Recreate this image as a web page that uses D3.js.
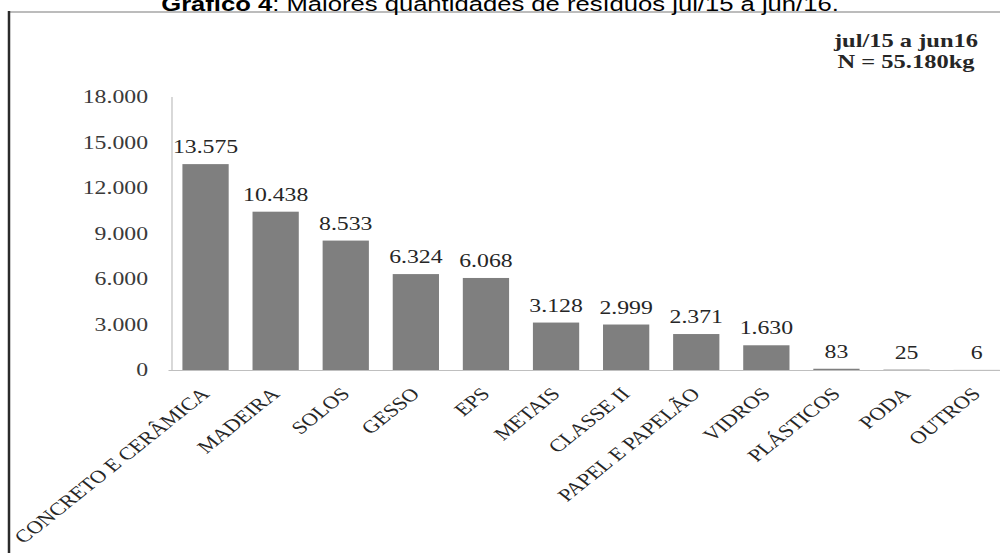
<!DOCTYPE html>
<html>
<head>
<meta charset="utf-8">
<script src="https://cdn.jsdelivr.net/npm/d3@7/dist/d3.min.js"></script>
<style>
  html, body { margin: 0; padding: 0; background: #ffffff; }
  svg { display: block; }
</style>
</head>
<body>
<svg id="chart" width="1000" height="553"></svg>
<script>
// Waste quantities by category, Jul/15 to Jun/16 (kg)
const categories = [
  "CONCRETO E CERÂMICA", "MADEIRA", "SOLOS", "GESSO", "EPS", "METAIS",
  "CLASSE II", "PAPEL E PAPELÃO", "VIDROS", "PLÁSTICOS", "PODA", "OUTROS"
];
const values = [13575, 10438, 8533, 6324, 6068, 3128, 2999, 2371, 1630, 83, 25, 6];
const yTicks = [0, 3000, 6000, 9000, 12000, 15000, 18000];
const titleBold = "Gráfico 4";
const titleRest = ": Maiores quantidades de resíduos jul/15 a jun/16.";
const noteLines = ["jul/15 a jun16", "N = 55.180kg"];

const ptBR = d3.formatLocale({ decimal: ",", thousands: ".", grouping: [3], currency: ["R$", ""] });
const fmt = ptBR.format(",d");

const svg = d3.select("#chart");
const W = 1000, H = 553;
const SX = 1.25; // horizontal text stretch
const serif = "Liberation Serif, Times New Roman, serif";

const x0 = 170.5, step = 70.1;
const x = d3.scaleBand()
  .domain(categories)
  .range([x0, x0 + step * categories.length])
  .paddingInner(0.34)
  .paddingOuter(0.17);

const y = d3.scaleLinear().domain([0, 18000]).range([370, 97]);

// frame
svg.append("line").attr("x1", 9).attr("x2", W).attr("y1", 12).attr("y2", 12)
  .attr("stroke", "#a6a6a6").attr("stroke-width", 1.5);
svg.append("line").attr("x1", 9).attr("x2", 9).attr("y1", 11).attr("y2", H)
  .attr("stroke", "#2b2b2b").attr("stroke-width", 2.5);

// title (runs off the top of the page)
const title = svg.append("text")
  .attr("transform", `translate(500,11) scale(${SX},1)`)
  .attr("text-anchor", "middle")
  .attr("font-family", "Liberation Sans, Arial, sans-serif")
  .attr("font-size", 20.5)
  .attr("fill", "#000");
title.append("tspan").attr("font-weight", "bold").text(titleBold);
title.append("tspan").text(titleRest);

// note in the top right
noteLines.forEach((t, i) => {
  svg.append("text")
    .attr("transform", `translate(906,${47 + i * 21}) scale(1.36,1)`)
    .attr("text-anchor", "middle")
    .attr("font-family", serif)
    .attr("font-weight", "bold")
    .attr("font-size", 18)
    .attr("fill", "#262626")
    .text(t);
});

// y axis line
svg.append("line")
  .attr("x1", x0 + 1.5).attr("x2", x0 + 1.5)
  .attr("y1", y(18000)).attr("y2", y(0))
  .attr("stroke", "#bfbfbf").attr("stroke-width", 1.2);

svg.selectAll(".ytick").data(yTicks).enter().append("text")
  .attr("class", "ytick")
  .attr("transform", d => `translate(148,${y(d) + 6}) scale(${SX},1)`)
  .attr("text-anchor", "end")
  .attr("font-family", serif)
  .attr("font-size", 19)
  .attr("fill", "#3a3a3a")
  .text(d => fmt(d));

// bars
svg.selectAll(".bar").data(values).enter().append("rect")
  .attr("class", "bar")
  .attr("x", (d, i) => x(categories[i]))
  .attr("width", x.bandwidth())
  .attr("y", d => y(d))
  .attr("height", d => y(0) - y(d))
  .attr("fill", "#7f7f7f");

// baseline
svg.append("line")
  .attr("x1", x0 - 2).attr("x2", W)
  .attr("y1", y(0) + 0.5).attr("y2", y(0) + 0.5)
  .attr("stroke", "#bfbfbf").attr("stroke-width", 1.2);

// value labels
svg.selectAll(".val").data(values).enter().append("text")
  .attr("class", "val")
  .attr("transform", (d, i) => `translate(${x(categories[i]) + x.bandwidth() / 2},${y(d) - 11}) scale(${SX},1)`)
  .attr("text-anchor", "middle")
  .attr("font-family", serif)
  .attr("font-size", 19)
  .attr("fill", "#262626")
  .text(d => fmt(d));

// rotated category labels
svg.selectAll(".cat").data(categories).enter().append("text")
  .attr("class", "cat")
  .attr("transform", d => `translate(${x(d) + x.bandwidth() / 2 + 5},395) scale(${SX},1) rotate(-45)`)
  .attr("text-anchor", "end")
  .attr("font-family", serif)
  .attr("font-size", 18)
  .attr("fill", "#262626")
  .text(d => d);
</script>
</body>
</html>
